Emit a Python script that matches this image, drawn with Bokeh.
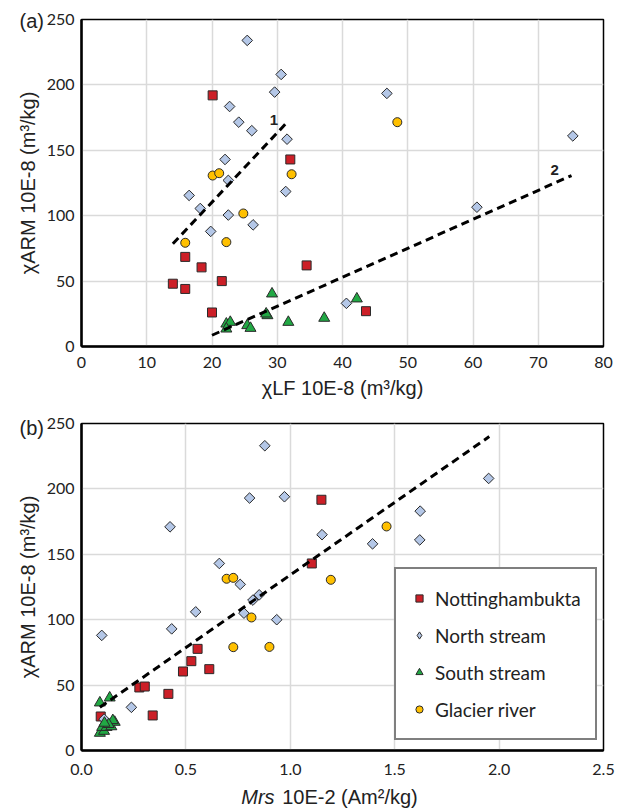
import math
from bokeh.plotting import figure
from bokeh.models import Range1d, Legend, LegendItem, Label, FixedTicker, NumeralTickFormatter
from bokeh.layouts import column
from bokeh.embed import file_html
from bokeh.resources import INLINE

# ---------------- data: panel (a) chiLF vs chiARM ----------------
notts_a_x = [20.1, 32.0, 14.0, 15.9, 15.9, 18.4, 21.5, 20.0, 34.5, 43.6]
notts_a_y = [192, 143, 48, 68.5, 44, 60.5, 50, 26, 62, 27]
north_a_x = [25.4, 30.6, 29.6, 22.7, 24.1, 26.1, 31.5, 22.0, 22.5, 16.5, 31.3, 18.2, 22.5, 19.8, 26.3, 46.8, 75.3, 60.6, 40.6]
north_a_y = [234, 208, 194.5, 183.5, 171.5, 165, 158.5, 143, 127, 115.5, 118.5, 105.5, 100.5, 88, 93, 193.5, 161, 106.5, 33]
south_a_x = [29.2, 22.2, 22.8, 22.2, 25.4, 25.9, 28.5, 28.3, 31.7, 37.2, 42.2]
south_a_y = [40.3, 17.3, 18.6, 13.5, 16.1, 14.0, 23.7, 25.0, 18.6, 21.7, 36.5]
glacier_a_x = [20.1, 21.1, 32.2, 15.9, 22.2, 24.8, 48.4]
glacier_a_y = [130.7, 132.5, 131.7, 79.3, 79.8, 101.7, 171.5]
trend1_x = [14.0, 31.3]
trend1_y = [78.5, 170.3]
trend2_x = [20.0, 75.1]
trend2_y = [8.6, 130.7]

# ---------------- data: panel (b) Mrs vs chiARM ----------------
notts_b_x = [1.149, 1.103, 0.556, 0.526, 0.486, 0.612, 0.277, 0.303, 0.416, 0.341, 0.092]
notts_b_y = [191.7, 143, 77.7, 68.3, 60.4, 62.2, 48.2, 48.9, 43.3, 26.8, 26]
north_b_x = [0.878, 0.805, 0.972, 0.424, 0.660, 0.760, 1.152, 1.622, 1.620, 1.394, 1.950, 0.821, 0.851, 0.778, 0.935, 0.097, 0.432, 0.547, 0.239, 0.108]
north_b_y = [233, 193, 194, 171, 143, 127, 165, 183, 161, 158, 208, 115, 119, 105, 100, 88, 93, 106, 33, 24]
south_b_x = [0.088, 0.135, 0.088, 0.108, 0.099, 0.120, 0.143, 0.159, 0.150, 0.130, 0.110]
south_b_y = [36.5, 40.3, 13.3, 14.8, 17.8, 17.8, 18.3, 21.7, 23.0, 20.0, 21.0]
glacier_b_x = [0.695, 0.727, 1.461, 1.194, 0.814, 0.727, 0.900]
glacier_b_y = [131.3, 132, 171.3, 130.5, 101.7, 79, 79.2]
trendb_x = [0.088, 1.953]
trendb_y = [33, 240]

series_names = ["Nottinghambukta", "North stream", "South stream", "Glacier river"]
y_ticks = [0, 50, 100, 150, 200, 250]
xa_ticks = [0, 10, 20, 30, 40, 50, 60, 70, 80]
xb_ticks = [0.0, 0.5, 1.0, 1.5, 2.0, 2.5]

RED = "#cc1f27"
BLUE = "#b4c7e7"
GREEN = "#21a844"
GOLD = "#ffc000"
EDGE = "#2a2a2a"
TXT = "#222222"


def make_fig(xr, xticks, mb_top, mb_bottom, mb_left, mb_right, margin):
    p = figure(width=mb_left + 523 + mb_right, height=mb_top + 327 + mb_bottom,
               x_range=Range1d(*xr), y_range=Range1d(0, 250),
               output_backend="svg", toolbar_location=None,
               min_border_left=mb_left, min_border_right=mb_right, min_border_top=mb_top,
               min_border_bottom=mb_bottom, margin=margin)
    p.outline_line_color = "black"
    p.outline_line_width = 1.5
    p.background_fill_color = "white"
    p.border_fill_color = None
    p.xaxis.ticker = FixedTicker(ticks=xticks)
    p.yaxis.ticker = FixedTicker(ticks=y_ticks)
    for ax in (p.xaxis[0], p.yaxis[0]):
        ax.axis_line_color = "black"
        ax.axis_line_width = 2.5
        ax.major_tick_line_color = None
        ax.minor_tick_line_color = None
        ax.major_tick_out = 0
        ax.major_tick_in = 0
        ax.minor_tick_out = 0
        ax.minor_tick_in = 0
        ax.major_label_text_font = "Lato"
        ax.major_label_text_font_size = "16px"
        ax.major_label_text_color = TXT
        ax.axis_label_text_font = "Liberation Sans"
        ax.axis_label_text_font_size = "20px"
        ax.axis_label_text_font_style = "normal"
        ax.axis_label_text_color = TXT
    p.yaxis.major_label_standoff = 7
    p.yaxis.axis_label_standoff = 5
    p.xgrid.grid_line_color = "#dadada"
    p.ygrid.grid_line_color = "#dadada"
    p.xgrid.grid_line_width = 1.5
    p.ygrid.grid_line_width = 1.5
    return p


def add_points(p, nx, ny, bx, by, sx, sy, gx, gy):
    r1 = p.scatter(nx, ny, marker="square", size=9, fill_color=RED, line_color=EDGE, line_width=1)
    r2 = p.scatter(bx, by, marker="square", size=7.5, angle=math.pi / 4, fill_color=BLUE,
                   line_color=EDGE, line_width=1)
    r3 = p.scatter(sx, sy, marker="triangle", size=11, fill_color=GREEN, line_color=EDGE, line_width=1)
    r4 = p.scatter(gx, gy, marker="circle", size=9, fill_color=GOLD, line_color=EDGE, line_width=1)
    return [r1, r2, r3, r4]


def txt(x, y, s, size="20px", style="normal", align="left"):
    return Label(x=x, y=y, text=s, text_font="Liberation Sans", text_font_size=size,
                 text_font_style=style, text_align=align, text_baseline="middle", text_color=TXT)


# ---------------- panel (a) ----------------
# frame: left 81, top 19 (border 30 shifted up by an 11px negative margin)
pa = make_fig((0, 80), xa_ticks, 30, 59, 81, 18, (-11, 0, 0, 0))
pa.xaxis.axis_label = "χLF 10E-8 (m³/kg)"
pa.yaxis.axis_label = "χARM 10E-8 (m³/kg)"
pa.xaxis.major_label_standoff = 10
pa.xaxis.axis_label_standoff = 6
add_points(pa, notts_a_x, notts_a_y, north_a_x, north_a_y, south_a_x, south_a_y, glacier_a_x, glacier_a_y)
pa.line(trend1_x, trend1_y, line_color="black", line_width=3, line_dash="8 5")
pa.line(trend2_x, trend2_y, line_color="black", line_width=3, line_dash="8 5")
pa.add_layout(txt(29.5, 173.5, "1", size="15px", style="bold", align="center"))
pa.add_layout(txt(72.5, 135, "2", size="15px", style="bold", align="center"))
pa.add_layout(txt(-9.5, 249.2, "(a)"), "above")

# ---------------- panel (b) ----------------
# frame: left 80, top 423 (border 90 shifted up by a 72px negative margin)
pb = make_fig((0, 2.5), xb_ticks, 90, 58, 80, 19, (-72, 0, 0, 0))
pb.yaxis.axis_label = "χARM 10E-8 (m³/kg)"
pb.xaxis.formatter = NumeralTickFormatter(format="0.0")
pb.xaxis.major_label_standoff = 13
proxy = pb.scatter(north_b_x, north_b_y, marker="diamond", size=7, fill_color=BLUE,
                   line_color=EDGE, line_width=1)
rends = add_points(pb, notts_b_x, notts_b_y, north_b_x, north_b_y, south_b_x, south_b_y, glacier_b_x, glacier_b_y)
pb.line(trendb_x, trendb_y, line_color="black", line_width=3, line_dash="8 5")
pb.add_layout(txt(-0.297, 246.9, "(b)"), "above")
pb.add_layout(txt(0.765, -35.9, "Mrs", style="italic"), "above")
pb.add_layout(txt(0.961, -35.9, "10E-2 (Am²/kg)"), "above")

leg_rends = [rends[0], proxy, rends[2], rends[3]]
legend = Legend(items=[LegendItem(label=n, renderers=[r]) for n, r in zip(series_names, leg_rends)],
                location=(313, 10), padding=14, spacing=7, label_height=30, glyph_height=30,
                glyph_width=18, label_standoff=7, label_text_font="Lato", label_text_font_size="19px",
                label_text_color=TXT, border_line_color="black", border_line_width=2,
                background_fill_color="white", background_fill_alpha=1.0, margin=0)
pb.add_layout(legend)

layout = column(pa, pb, spacing=0)
open("out.html", "w").write(file_html(layout, INLINE))
